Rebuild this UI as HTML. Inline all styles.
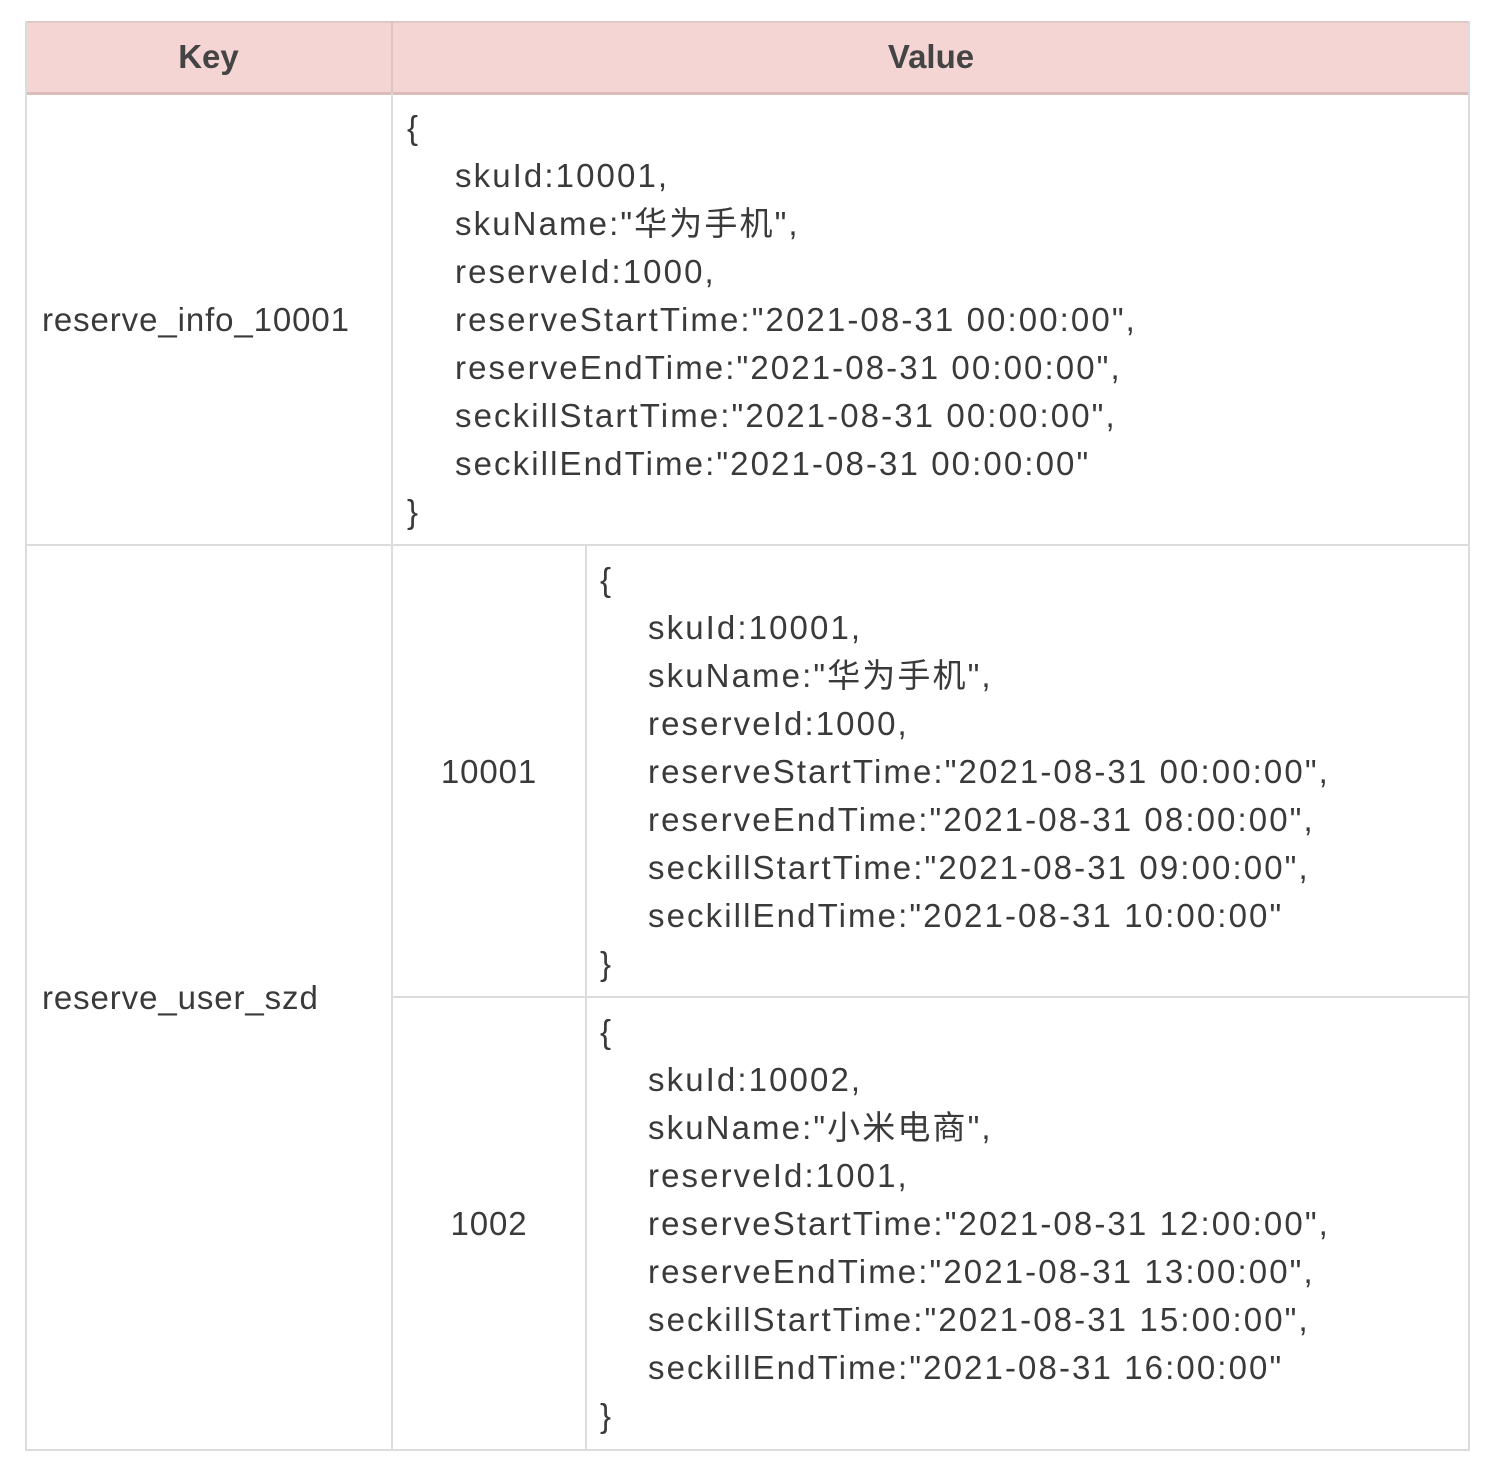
<!DOCTYPE html>
<html><head><meta charset="utf-8"><style>
body{margin:0;width:1496px;height:1474px;background:#fff;position:relative;font-family:"Liberation Sans","Noto Sans CJK SC",sans-serif;color:#3a3a3a;font-size:33px;overflow:hidden}
.l{position:absolute;background:#dcdcdc}
.t{position:absolute;line-height:48px;white-space:pre}
.v{letter-spacing:2.1px}
.v span{display:block;padding-left:48px}
.k{letter-spacing:0.9px}
</style></head><body>
<div style="position:absolute;left:25px;top:21px;width:1445px;height:72px;background:#f4d5d3"></div>
<div class="l" style="left:25px;top:21px;width:1445px;height:2px;background:#dcc9c8"></div>
<div class="l" style="left:25px;top:92px;width:1445px;height:3px;background:#d9bcbb"></div>
<div class="l" style="left:25px;top:21px;width:2px;height:1430px"></div>
<div class="l" style="left:1468px;top:21px;width:2px;height:1430px"></div>
<div class="l" style="left:391px;top:21px;width:2px;height:1430px"></div>
<div class="l" style="left:391px;top:21px;width:2px;height:72px;background:#dcc4c3"></div>
<div class="l" style="left:585px;top:545px;width:2px;height:906px"></div>
<div class="l" style="left:25px;top:544px;width:1445px;height:2px"></div>
<div class="l" style="left:392px;top:996px;width:1078px;height:2px"></div>
<div class="l" style="left:25px;top:1449px;width:1445px;height:2px"></div>
<div class="t" style="left:25px;width:367px;top:33px;text-align:center;font-weight:bold;color:#444">Key</div>
<div class="t" style="left:392px;width:1078px;top:33px;text-align:center;font-weight:bold;color:#444">Value</div>
<div class="t k" style="left:42px;top:296px">reserve_info_10001</div>
<div class="t k" style="left:42px;top:974px">reserve_user_szd</div>
<div class="t k" style="left:392px;width:194px;top:748px;text-align:center">10001</div>
<div class="t k" style="left:392px;width:194px;top:1200px;text-align:center">1002</div>
<div class="t v" style="left:407px;top:104px">{<span>skuId:10001,</span><span>skuName:"华为手机",</span><span>reserveId:1000,</span><span>reserveStartTime:"2021-08-31 00:00:00",</span><span>reserveEndTime:"2021-08-31 00:00:00",</span><span>seckillStartTime:"2021-08-31 00:00:00",</span><span>seckillEndTime:"2021-08-31 00:00:00"</span>}</div>
<div class="t v" style="left:600px;top:556px">{<span>skuId:10001,</span><span>skuName:"华为手机",</span><span>reserveId:1000,</span><span>reserveStartTime:"2021-08-31 00:00:00",</span><span>reserveEndTime:"2021-08-31 08:00:00",</span><span>seckillStartTime:"2021-08-31 09:00:00",</span><span>seckillEndTime:"2021-08-31 10:00:00"</span>}</div>
<div class="t v" style="left:600px;top:1008px">{<span>skuId:10002,</span><span>skuName:"小米电商",</span><span>reserveId:1001,</span><span>reserveStartTime:"2021-08-31 12:00:00",</span><span>reserveEndTime:"2021-08-31 13:00:00",</span><span>seckillStartTime:"2021-08-31 15:00:00",</span><span>seckillEndTime:"2021-08-31 16:00:00"</span>}</div>
</body></html>
